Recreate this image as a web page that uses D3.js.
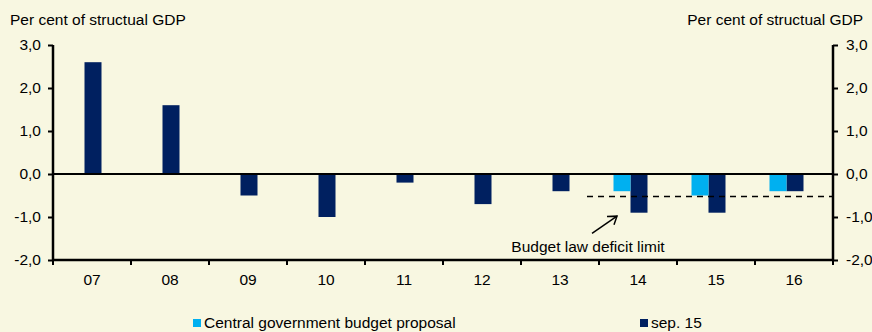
<!DOCTYPE html>
<meta charset="utf-8">
<head>
	<title>Structural deficit</title>
	<style>
		body { margin: 0; background: #f8f7e1; }
		text { font-family: "Liberation Sans", Arial, sans-serif; fill: #000; }
	</style>
</head>
<body>
<div class="container"></div>
<script src="https://cdnjs.cloudflare.com/ajax/libs/d3/7.8.5/d3.min.js"></script>
<script type="text/javascript">

	// Data
	var years = ["07", "08", "09", "10", "11", "12", "13", "14", "15", "16"];
	var proposal = [null, null, null, null, null, null, null, -0.4, -0.5, -0.4];
	var sep15 = [2.6, 1.6, -0.5, -1.0, -0.2, -0.7, -0.4, -0.9, -0.9, -0.4];
	var yTicks = [-2, -1, 0, 1, 2, 3];
	var limit = -0.5;
	var limitFrom = "14";

	var width = 872, height = 332;
	var margin = {left: 53, right: 39, top: 45, bottom: 72};
	var fs = "15.5px";

	var svg = d3.select(".container").append("svg")
		.attr("width", width)
		.attr("height", height);

	svg.append("rect").attr("width", width).attr("height", height).attr("fill", "#f8f7e1");

	var x = d3.scaleBand()
		.domain(years)
		.range([margin.left, width - margin.right]);

	var y = d3.scaleLinear()
		.domain([-2, 3])
		.range([height - margin.bottom, margin.top]);

	var barW = 17;
	var fmt = function (d) { return d3.format(".1f")(d).replace(".", ",").replace("−", "-"); };

	// bars - sep. 15 centred on category, proposal just left of it
	var darkData = years.map(function (yr, i) { return {year: yr, v: sep15[i]}; });
	var lightData = years.map(function (yr, i) { return {year: yr, v: proposal[i]}; })
		.filter(function (d) { return d.v !== null; });

	svg.selectAll(".dark")
		.data(darkData)
		.enter().append("rect")
		.attr("x", function (d) { return x(d.year) + x.bandwidth() / 2 - barW / 2 + 1; })
		.attr("y", function (d) { return y(Math.max(0, d.v)); })
		.attr("width", barW)
		.attr("height", function (d) { return Math.abs(y(d.v) - y(0)); })
		.attr("fill", "#002060");

	svg.selectAll(".light")
		.data(lightData)
		.enter().append("rect")
		.attr("x", function (d) { return x(d.year) + x.bandwidth() / 2 - barW * 1.5 + 1; })
		.attr("y", function (d) { return y(Math.max(0, d.v)); })
		.attr("width", barW)
		.attr("height", function (d) { return Math.abs(y(d.v) - y(0)); })
		.attr("fill", "#00b0f0");

	// zero line
	svg.append("line")
		.attr("x1", x.range()[0]).attr("x2", x.range()[1])
		.attr("y1", y(0)).attr("y2", y(0))
		.attr("stroke", "#000").attr("stroke-width", 2);

	// axes
	var left = svg.append("g")
		.attr("transform", "translate(" + margin.left + ",0)")
		.call(d3.axisLeft(y).tickValues(yTicks).tickFormat(fmt).tickSize(5).tickPadding(7));
	var right = svg.append("g")
		.attr("transform", "translate(" + (width - margin.right) + ",0)")
		.call(d3.axisRight(y).tickValues(yTicks).tickFormat(fmt).tickSize(5).tickPadding(8));
	var bottom = svg.append("g")
		.attr("transform", "translate(0," + y(-2) + ")")
		.call(d3.axisBottom(x).tickSize(0).tickPadding(14));

	// category boundary ticks
	svg.selectAll(".btick")
		.data(years.concat(["end"]))
		.enter().append("line")
		.attr("x1", function (d, i) { return margin.left + i * x.step(); })
		.attr("x2", function (d, i) { return margin.left + i * x.step(); })
		.attr("y1", y(-2)).attr("y2", y(-2) + 5)
		.attr("stroke", "#000").attr("stroke-width", 2);

	[left, right, bottom].forEach(function (g) {
		g.select(".domain").attr("stroke-width", 2.5);
		g.selectAll(".tick line").attr("stroke-width", 2);
		g.selectAll("text").style("font-size", fs).attr("font-family", "Liberation Sans, Arial, sans-serif").attr("fill", "#000");
	});
	left.select(".domain").attr("d", "M0," + y(3) + "V" + y(-2));
	right.select(".domain").attr("d", "M0," + y(3) + "V" + y(-2));
	bottom.select(".domain").attr("d", "M" + x.range()[0] + ",0H" + x.range()[1]);

	// axis titles
	svg.append("text").attr("x", 10).attr("y", 25).style("font-size", fs)
		.text("Per cent of structual GDP");
	svg.append("text").attr("x", 863).attr("y", 25).attr("text-anchor", "end").style("font-size", fs)
		.text("Per cent of structual GDP");

	// budget law deficit limit
	svg.append("line")
		.attr("x1", x(limitFrom) - 12).attr("x2", x.range()[1])
		.attr("y1", y(limit) + 1).attr("y2", y(limit) + 1)
		.attr("stroke", "#000").attr("stroke-width", 1.5)
		.attr("stroke-dasharray", "6,5");

	svg.append("line")
		.attr("x1", 592).attr("y1", y(-1.38))
		.attr("x2", 617).attr("y2", y(-0.98))
		.attr("stroke", "#000").attr("stroke-width", 1.5);
	svg.append("path")
		.attr("d", "M607," + y(-0.99) + "L617," + y(-0.98) + "L614," + y(-1.18))
		.attr("fill", "none").attr("stroke", "#000").attr("stroke-width", 1.5);

	svg.append("text").attr("x", 588).attr("y", 252).attr("text-anchor", "middle").style("font-size", fs)
		.text("Budget law deficit limit");

	// legend
	var legend = [
		{name: "Central government budget proposal", color: "#00b0f0", x: 193},
		{name: "sep. 15", color: "#002060", x: 640}
	];
	var lg = svg.selectAll(".legend").data(legend).enter().append("g");
	lg.append("rect").attr("x", function (d) { return d.x; }).attr("y", 319)
		.attr("width", 8).attr("height", 8).attr("fill", function (d) { return d.color; });
	lg.append("text").attr("x", function (d) { return d.x + 11; }).attr("y", 328)
		.style("font-size", fs).text(function (d) { return d.name; });

</script>
</body>
